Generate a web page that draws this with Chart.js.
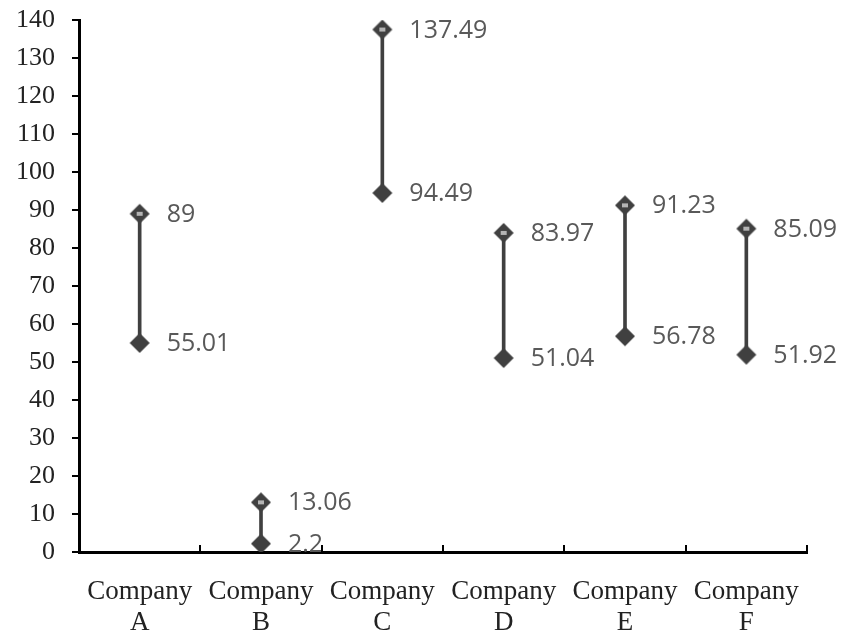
<!DOCTYPE html>
<html>
<head>
<meta charset="utf-8">
<script src="https://cdn.jsdelivr.net/npm/chart.js@4.4.0/dist/chart.umd.min.js"></script>
<style>
  html, body { margin: 0; padding: 0; background: #fff; }
  #wrap { width: 841px; height: 635px; }
</style>
</head>
<body>
<div id="wrap"><canvas id="myGraph"></canvas></div>
<script>
// chart values
const companies = [["Company", "A"], ["Company", "B"], ["Company", "C"], ["Company", "D"], ["Company", "E"], ["Company", "F"]];
const lows = [55.01, 2.2, 94.49, 51.04, 56.78, 51.92];
const highs = [89, 13.06, 137.49, 83.97, 91.23, 85.09];

const markColor = "#404040";

// diamond markers, the high one has a light bar in the middle
function makeDiamond(withBar) {
  const c = document.createElement("canvas");
  c.width = 22;
  c.height = 22;
  const ctx = c.getContext("2d");
  ctx.fillStyle = markColor;
  ctx.beginPath();
  ctx.moveTo(11, 1);
  ctx.lineTo(21, 11);
  ctx.lineTo(11, 21);
  ctx.lineTo(1, 11);
  ctx.closePath();
  ctx.fill();
  if (withBar) {
    ctx.fillStyle = "#b4b4b4";
    ctx.fillRect(8, 9, 6, 4);
  }
  return c;
}

// value labels next to each marker
const valueLabels = {
  id: "valueLabels",
  afterDatasetsDraw(chart) {
    const ctx = chart.ctx;
    ctx.save();
    ctx.font = '25px "Open Sans"';
    ctx.fillStyle = "#595959";
    ctx.textAlign = "left";
    ctx.textBaseline = "middle";
    chart.data.datasets.forEach((ds, di) => {
      if (ds.type !== "line") return;
      const meta = chart.getDatasetMeta(di);
      meta.data.forEach((pt, i) => {
        ctx.fillText(String(ds.data[i]), pt.x + 27, pt.y + 1);
      });
    });
    ctx.restore();
  }
};

// x axis tick marks point up, between the categories
const xTicksUp = {
  id: "xTicksUp",
  afterDraw(chart) {
    const x = chart.scales.x;
    const ctx = chart.ctx;
    const bottom = chart.chartArea.bottom;
    ctx.save();
    ctx.strokeStyle = "#000";
    ctx.lineWidth = 2;
    for (let i = 1; i <= companies.length; i++) {
      const px = Math.round(x.getPixelForValue(i - 0.5));
      ctx.beginPath();
      ctx.moveTo(px, bottom - 7);
      ctx.lineTo(px, bottom);
      ctx.stroke();
    }
    ctx.restore();
  }
};

new Chart(document.getElementById("myGraph"), {
  type: "bar",
  data: {
    labels: companies,
    datasets: [
      {
        type: "line",
        label: "high",
        data: highs,
        showLine: false,
        pointStyle: makeDiamond(true),
        order: 0,
      },
      {
        type: "line",
        label: "low",
        data: lows,
        showLine: false,
        pointStyle: makeDiamond(false),
        order: 0,
      },
      {
        type: "bar",
        label: "range",
        data: lows.map((l, i) => [l, highs[i]]),
        backgroundColor: markColor,
        barThickness: 3,
        order: 1,
      },
    ],
  },
  options: {
    responsive: true,
    maintainAspectRatio: false,
    animation: false,
    layout: { padding: { top: 20, right: 34, left: 0, bottom: 0 } },
    plugins: {
      legend: { display: false },
      tooltip: { enabled: false },
    },
    scales: {
      x: {
        offset: true,
        grid: { display: false, drawTicks: false },
        border: { color: "#000", width: 3 },
        ticks: {
          color: "#222",
          font: { family: '"Liberation Serif"', size: 27, lineHeight: 1.15 },
          maxRotation: 0,
          autoSkip: false,
          padding: 24,
        },
        afterFit(scale) {
          scale.height = 83;
          scale.paddingTop = 0;
          scale.paddingBottom = 0;
        },
      },
      y: {
        min: 0,
        max: 140,
        grid: { drawOnChartArea: false, color: "#000", lineWidth: 2, tickLength: 7 },
        border: { color: "#000", width: 3 },
        ticks: {
          stepSize: 10,
          color: "#222",
          font: { family: '"Liberation Serif"', size: 26 },
          padding: 17,
        },
        afterFit(scale) {
          scale.width = 79;
          scale.paddingTop = 0;
          scale.paddingBottom = 0;
        },
      },
    },
  },
  plugins: [valueLabels, xTicksUp],
});
</script>
</body>
</html>
